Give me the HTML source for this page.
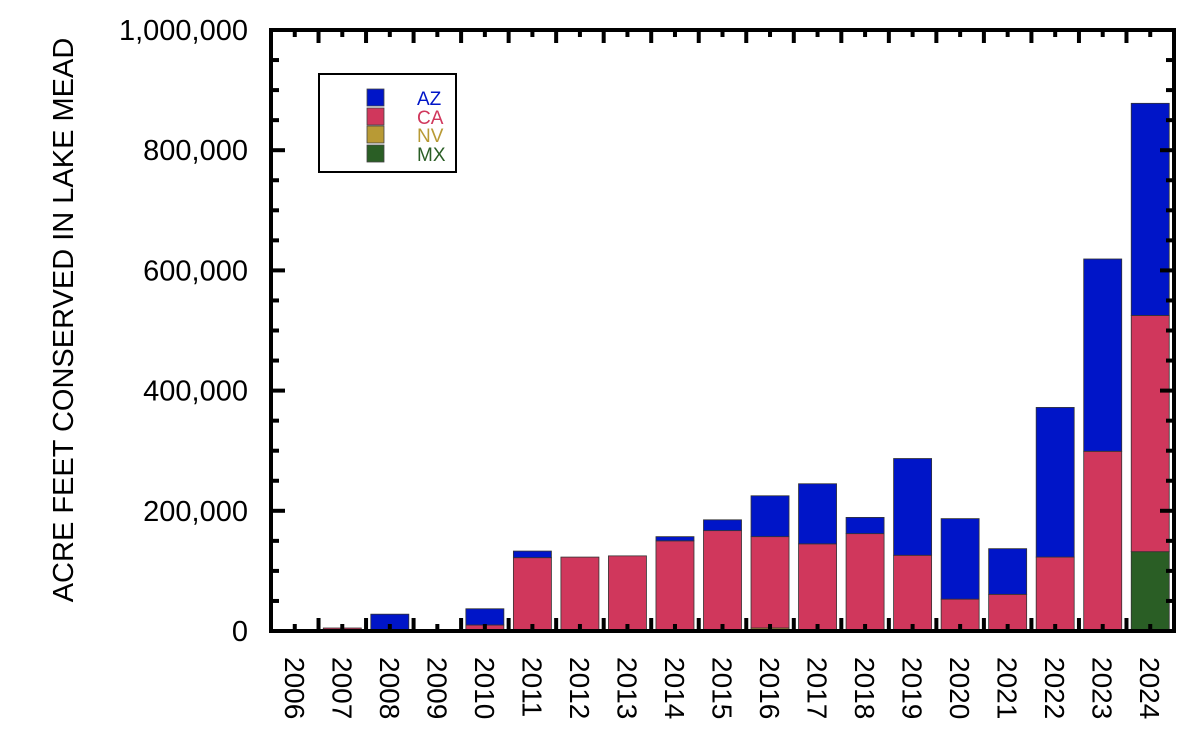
<!DOCTYPE html>
<html><head><meta charset="utf-8"><style>
body{margin:0;background:#fff;}
svg{display:block;font-family:"Liberation Sans",Arial,sans-serif;}
</style></head><body>
<svg id="chart" width="1200" height="737">
<g id="bars"></g>
<g id="axes"></g>
<text transform="translate(73,320) rotate(-90)" text-anchor="middle" font-size="29">ACRE FEET CONSERVED IN LAKE MEAD</text>
<g>
<rect x="319" y="74" width="137" height="98" fill="#fff" stroke="#000" stroke-width="2"/>
<rect x="367" y="89" width="17" height="17" fill="#0015c8" stroke="#444" stroke-width="0.8"/>
<rect x="367" y="108" width="17" height="17" fill="#d0375c" stroke="#444" stroke-width="0.8"/>
<rect x="367" y="126" width="17" height="17" fill="#b89a35" stroke="#444" stroke-width="0.8"/>
<rect x="367" y="145" width="17" height="17" fill="#2a5e25" stroke="#444" stroke-width="0.8"/>
<text x="417" y="105" font-size="19" fill="#0015c8">AZ</text>
<text x="417" y="124" font-size="19" fill="#d0375c">CA</text>
<text x="417" y="142" font-size="19" fill="#b89a35">NV</text>
<text x="417" y="161" font-size="19" fill="#2a5e25">MX</text>
</g>
</svg>
<script>
const years=["2006","2007","2008","2009","2010","2011","2012","2013","2014","2015","2016","2017","2018","2019","2020","2021","2022","2023","2024"];
const mx=[0,0,0,0,0,0,0,0,0,0,0,0,0,0,0,0,0,0,132000];
const nv=[0,0,0,0,0,0,0,0,0,0,5000,0,0,0,0,0,0,0,0];
const ca=[1000,5000,0,1000,10000,122000,123000,125000,150000,167000,152000,145000,162000,126000,53000,61000,123000,299000,393000];
const az=[0,0,28000,0,27000,11000,0,0,7000,18000,68000,100000,27000,161000,134000,76000,249000,320000,353000];
const yTicks=[0,200000,400000,600000,800000,1000000];
const yTickLabels=["0","200,000","400,000","600,000","800,000","1,000,000"];
const X0=271,X1=1174,Y0=631,Y1=30,N=years.length;
const step=(X1-X0)/N;
function xC(i){return X0+step*(i+0.5);}
function yS(v){return Y0-(v/1000000)*(Y0-Y1);}
const NS="http://www.w3.org/2000/svg";
const bars=document.getElementById('bars'),axes=document.getElementById('axes');
function mk(tag,attrs,parent){const e=document.createElementNS(NS,tag);for(const k in attrs)e.setAttribute(k,attrs[k]);parent.appendChild(e);return e;}
const series=[["mx",mx,"#2a5e25"],["nv",nv,"#b89a35"],["ca",ca,"#d0375c"],["az",az,"#0015c8"]];
const bw=step*0.8;
years.forEach((yr,i)=>{
  let base=0;
  series.forEach(([nm,arr,col])=>{
    const v=arr[i]; if(v<=0)return;
    const r=mk('rect',{x:xC(i)-bw/2,y:yS(base+v),width:bw,height:yS(base)-yS(base+v),fill:col,stroke:"#333","stroke-width":0.8},bars);
    
    
    base+=v;
  });
  const t=mk('text',{transform:`translate(${xC(i)-10},657) rotate(90)`,"font-size":28},axes);
  
  
  t.textContent=yr;
});
const f=mk('rect',{x:X0,y:Y1,width:X1-X0,height:Y0-Y1,fill:"none",stroke:"#000","stroke-width":4},axes);


for(let i=0;i<N;i++){
  const c=xC(i);
  mk('line',{x1:c,x2:c,y1:Y0,y2:Y0-7,stroke:"#000","stroke-width":4},axes);
  mk('line',{x1:c,x2:c,y1:Y1,y2:Y1+7,stroke:"#000","stroke-width":4},axes);
  if(i>0){const b=X0+step*i;
    mk('line',{x1:b,x2:b,y1:Y0,y2:Y0-13,stroke:"#000","stroke-width":4},axes);
    mk('line',{x1:b,x2:b,y1:Y1,y2:Y1+13,stroke:"#000","stroke-width":4},axes);}
}
for(let v=0;v<=1000000;v+=50000){
  const y=yS(v),L=(v%200000===0)?14:8;
  mk('line',{x1:X0,x2:X0+L,y1:y,y2:y,stroke:"#000","stroke-width":4},axes);
  mk('line',{x1:X1,x2:X1-L,y1:y,y2:y,stroke:"#000","stroke-width":4},axes);
}
yTicks.forEach((v,k)=>{
  const t=mk('text',{x:248,y:yS(v)+10,"text-anchor":"end","font-size":29},axes);
  
  
  t.textContent=yTickLabels[k];
});
</script>
</body></html>
